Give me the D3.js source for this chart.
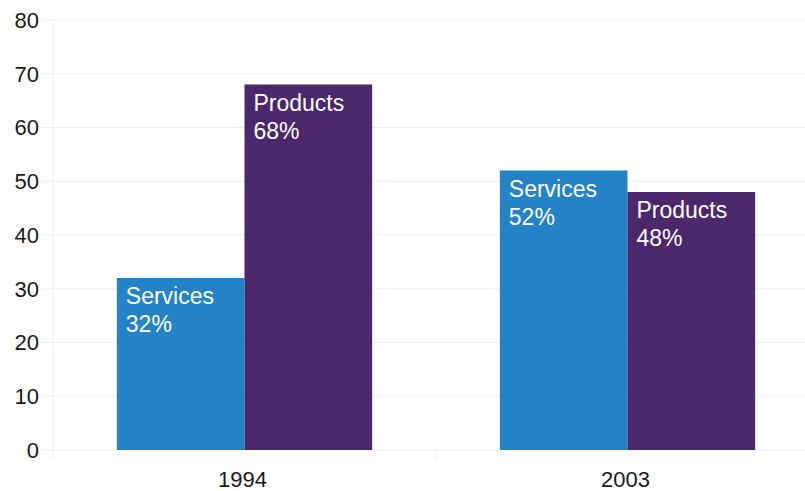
<!DOCTYPE html>
<html>
<head>
<meta charset="utf-8">
<script src="https://cdn.jsdelivr.net/npm/d3@7"></script>
<style>
  body { margin: 0; background: #fff; }
  svg { display: block; font-family: "Liberation Sans", Arial, sans-serif; }
</style>
</head>
<body>
<svg width="805" height="491"></svg>
<script>
var years = ["1994", "2003"];
var series = ["Services", "Products"];
var services = [32, 52];
var products = [68, 48];
var yTicks = [0, 10, 20, 30, 40, 50, 60, 70, 80];

var colors = { Services: "#2383c6", Products: "#4b286b" };

const margin = { top: 20, right: -14, bottom: 41, left: 53 },
  width = 805 - margin.left - margin.right,
  height = 491 - margin.top - margin.bottom;

const svg = d3.select("svg");
const g = svg.append("g")
  .attr("transform", "translate(" + margin.left + "," + margin.top + ")");

var x = d3.scaleBand().domain(years).range([0, width]).paddingInner(0).paddingOuter(0);
var x1 = d3.scaleBand().domain(series).range([x.bandwidth() / 6, x.bandwidth() * 5 / 6]);
var y = d3.scaleLinear().domain([0, 80]).range([height, 0]);

// gridlines
g.selectAll("line.grid")
  .data(yTicks)
  .enter().append("line")
  .attr("class", "grid")
  .attr("x1", -12).attr("x2", width)
  .attr("y1", d => y(d)).attr("y2", d => y(d))
  .attr("stroke", "#efefef").attr("stroke-width", 1);

// vertical lines at left and between categories
g.append("line")
  .attr("x1", 0).attr("x2", 0).attr("y1", 0).attr("y2", height + 10)
  .attr("stroke", "#f0f0f0");
g.append("line")
  .attr("x1", x("2003")).attr("x2", x("2003")).attr("y1", height).attr("y2", height + 10)
  .attr("stroke", "#f0f0f0");

// y tick labels
g.selectAll("text.ytick")
  .data(yTicks)
  .enter().append("text")
  .attr("class", "ytick")
  .attr("x", -14)
  .attr("y", d => y(d))
  .attr("dy", "0.36em")
  .attr("text-anchor", "end")
  .attr("font-size", 22)
  .attr("fill", "#1a1a1a")
  .text(d => d);

// x labels
g.selectAll("text.xtick")
  .data(years)
  .enter().append("text")
  .attr("class", "xtick")
  .attr("x", d => x(d) + x.bandwidth() / 2 - 2)
  .attr("y", height + 37)
  .attr("text-anchor", "middle")
  .attr("font-size", 22)
  .attr("fill", "#1a1a1a")
  .text(d => d);

var data = [];
years.forEach(function (yr, i) {
  data.push({ year: yr, key: "Services", value: services[i] });
  data.push({ year: yr, key: "Products", value: products[i] });
});

var bar = g.selectAll("g.bar")
  .data(data)
  .enter().append("g")
  .attr("class", "bar")
  .attr("transform", d => "translate(" + (x(d.year) + x1(d.key)) + ",0)");

bar.append("rect")
  .attr("x", 0)
  .attr("y", d => y(d.value))
  .attr("width", x1.bandwidth())
  .attr("height", d => height - y(d.value))
  .attr("fill", d => colors[d.key]);

bar.append("text")
  .attr("x", 9)
  .attr("y", d => y(d.value) + 26)
  .attr("font-size", 23)
  .attr("fill", "#fff")
  .text(d => d.key);

bar.append("text")
  .attr("x", 9)
  .attr("y", d => y(d.value) + 54)
  .attr("font-size", 23)
  .attr("fill", "#fff")
  .text(d => d.value + "%");
</script>
</body>
</html>
